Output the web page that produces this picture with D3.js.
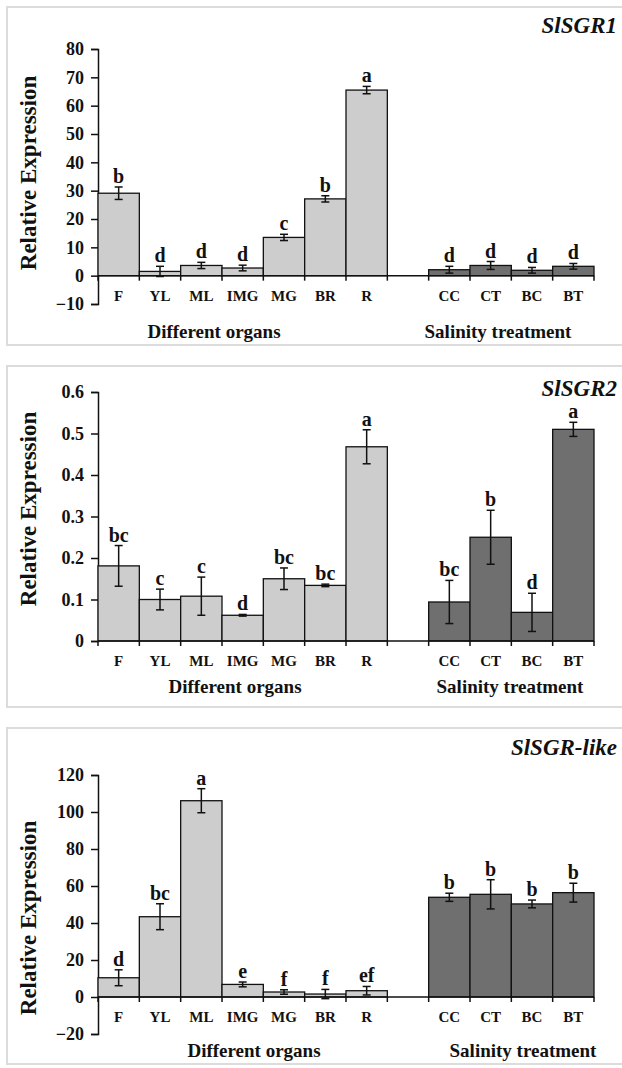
<!DOCTYPE html>
<html>
<head>
<meta charset="utf-8">
<script src="https://cdn.jsdelivr.net/npm/d3@7"></script>
<style>
  body { margin: 0; background: #fff; }
  svg { display: block; }
  text { font-family: "Liberation Serif", "Times New Roman", serif; font-weight: bold; fill: #111; }
</style>
</head>
<body>
<svg id="chart" width="622" height="1068"></svg>
<script>
// ----- data -----
var organs = ["F", "YL", "ML", "IMG", "MG", "BR", "R"];
var treatments = ["CC", "CT", "BC", "BT"];

var sgr1Values = [29.1, 1.5, 3.6, 2.7, 13.5, 27.1, 65.5, 2.1, 3.6, 1.9, 3.3];
var sgr1Errors = [2.2, 1.8, 1.1, 1.0, 1.1, 1.1, 1.3, 1.2, 1.4, 1.0, 1.0];
var sgr1Letters = ["b", "d", "d", "d", "c", "b", "a", "d", "d", "d", "d"];
var sgr1Ticks = [-10, 0, 10, 20, 30, 40, 50, 60, 70, 80];

var sgr2Values = [0.181, 0.100, 0.108, 0.062, 0.150, 0.134, 0.468, 0.094, 0.250, 0.069, 0.510];
var sgr2Errors = [0.049, 0.025, 0.046, 0.002, 0.026, 0.003, 0.041, 0.052, 0.065, 0.046, 0.017];
var sgr2Letters = ["bc", "c", "c", "d", "bc", "bc", "a", "bc", "b", "d", "a"];
var sgr2Ticks = [0, 0.1, 0.2, 0.3, 0.4, 0.5, 0.6];

var likeValues = [10.4, 43.4, 106.1, 6.8, 2.7, 1.6, 3.4, 53.9, 55.5, 50.3, 56.4];
var likeErrors = [4.3, 7.0, 6.5, 1.3, 1.2, 2.5, 2.3, 2.2, 7.9, 2.1, 5.1];
var likeLetters = ["d", "bc", "a", "e", "f", "f", "ef", "b", "b", "b", "b"];
var likeTicks = [-20, 0, 20, 40, 60, 80, 100, 120];

var groupLabels = ["Different organs", "Salinity treatment"];

// ----- panels -----
var svg = d3.select("#chart");
var slots = organs.concat(["_gap"]).concat(treatments);
var cats = organs.concat(treatments);

var x = d3.scaleBand().domain(slots).range([98, 594]).padding(0);

var panels = [
  {title: "SlSGR1", values: sgr1Values, errors: sgr1Errors, letters: sgr1Letters, ticks: sgr1Ticks,
   fmt: d3.format("d"), box: [7, 345], yRange: [304, 49], titleY: 33, yTitleC: 173,
   groupY: 338, groupX: [214, 498]},
  {title: "SlSGR2", values: sgr2Values, errors: sgr2Errors, letters: sgr2Letters, ticks: sgr2Ticks,
   fmt: function(d){ return d === 0 ? "0" : d3.format(".1f")(d); }, box: [366, 707], yRange: [641, 392], titleY: 396, yTitleC: 509,
   groupY: 693, groupX: [235, 510]},
  {title: "SlSGR-like", values: likeValues, errors: likeErrors, letters: likeLetters, ticks: likeTicks,
   fmt: d3.format("d"), box: [728, 1064], yRange: [1034, 775], titleY: 755, yTitleC: 918,
   groupY: 1057, groupX: [254, 523]}
];

panels.forEach(function(p){
  var g = svg.append("g");

  // light frame round each panel
  g.append("rect")
    .attr("x", 7).attr("y", p.box[0])
    .attr("width", 630).attr("height", p.box[1] - p.box[0])
    .attr("fill", "none").attr("stroke", "#dcdcdc").attr("stroke-width", 2);

  var y = d3.scaleLinear()
    .domain([p.ticks[0], p.ticks[p.ticks.length - 1]])
    .range(p.yRange);

  // y axis
  var yAxis = g.append("g")
    .attr("transform", "translate(98,0)")
    .call(d3.axisLeft(y).tickValues(p.ticks).tickFormat(p.fmt).tickSize(7).tickPadding(7));
  yAxis.select(".domain").attr("stroke", "#111").attr("stroke-width", 1.5);
  yAxis.selectAll(".tick line").attr("stroke", "#111").attr("stroke-width", 1.5);
  yAxis.selectAll(".tick text").attr("font-size", 18).attr("font-family", null).attr("fill", "#111");

  var data = cats.map(function(c, i){
    return {cat: c, v: p.values[i], e: p.errors[i], l: p.letters[i], organ: i < organs.length};
  });

  // bars
  g.selectAll("rect.bar").data(data).enter().append("rect")
    .attr("class", "bar")
    .attr("x", function(d){ return x(d.cat); })
    .attr("width", x.bandwidth())
    .attr("y", function(d){ return y(d.v); })
    .attr("height", function(d){ return y(0) - y(d.v); })
    .attr("fill", function(d){ return d.organ ? "#cdcdcd" : "#6f6f6f"; })
    .attr("stroke", "#111").attr("stroke-width", 1.3);

  // x axis line at zero, with ticks at slot edges
  g.append("line")
    .attr("x1", 98).attr("x2", 594)
    .attr("y1", y(0)).attr("y2", y(0))
    .attr("stroke", "#111").attr("stroke-width", 1.5);
  var edges = slots.map(function(s){ return x(s); }).concat([594]);
  g.selectAll("line.xt").data(edges).enter().append("line")
    .attr("class", "xt")
    .attr("x1", function(d){ return d; }).attr("x2", function(d){ return d; })
    .attr("y1", y(0)).attr("y2", y(0) + 5)
    .attr("stroke", "#111").attr("stroke-width", 1.5);

  // category labels
  g.selectAll("text.cat").data(data).enter().append("text")
    .attr("class", "cat")
    .attr("x", function(d){ return x(d.cat) + x.bandwidth() / 2; })
    .attr("y", y(0) + 25)
    .attr("text-anchor", "middle")
    .attr("font-size", 15)
    .text(function(d){ return d.cat; });

  // error bars
  var eb = g.selectAll("g.eb").data(data).enter().append("g").attr("class", "eb")
    .attr("stroke", "#111").attr("stroke-width", 1.5);
  eb.append("line")
    .attr("x1", function(d){ return x(d.cat) + x.bandwidth() / 2; })
    .attr("x2", function(d){ return x(d.cat) + x.bandwidth() / 2; })
    .attr("y1", function(d){ return y(d.v + d.e); })
    .attr("y2", function(d){ return y(d.v - d.e); });
  [1, -1].forEach(function(s){
    eb.append("line")
      .attr("x1", function(d){ return x(d.cat) + x.bandwidth() / 2 - 4; })
      .attr("x2", function(d){ return x(d.cat) + x.bandwidth() / 2 + 4; })
      .attr("y1", function(d){ return y(d.v + s * d.e); })
      .attr("y2", function(d){ return y(d.v + s * d.e); });
  });

  // significance letters
  g.selectAll("text.sig").data(data).enter().append("text")
    .attr("class", "sig")
    .attr("x", function(d){ return x(d.cat) + x.bandwidth() / 2; })
    .attr("y", function(d){ return y(d.v + d.e) - 4; })
    .attr("text-anchor", "middle")
    .attr("font-size", 20)
    .text(function(d){ return d.l; });

  // gene title
  g.append("text")
    .attr("x", 617).attr("y", p.titleY)
    .attr("text-anchor", "end")
    .attr("font-size", 23).attr("font-style", "italic")
    .text(p.title);

  // y title
  g.append("text")
    .attr("transform", "translate(36," + p.yTitleC + ") rotate(-90)")
    .attr("text-anchor", "middle")
    .attr("font-size", 23)
    .text("Relative Expression");

  // group labels
  g.selectAll("text.grp").data(groupLabels).enter().append("text")
    .attr("class", "grp")
    .attr("x", function(d, i){ return p.groupX[i]; })
    .attr("y", p.groupY)
    .attr("text-anchor", "middle")
    .attr("font-size", 19)
    .text(function(d){ return d; });
});
</script>
</body>
</html>
